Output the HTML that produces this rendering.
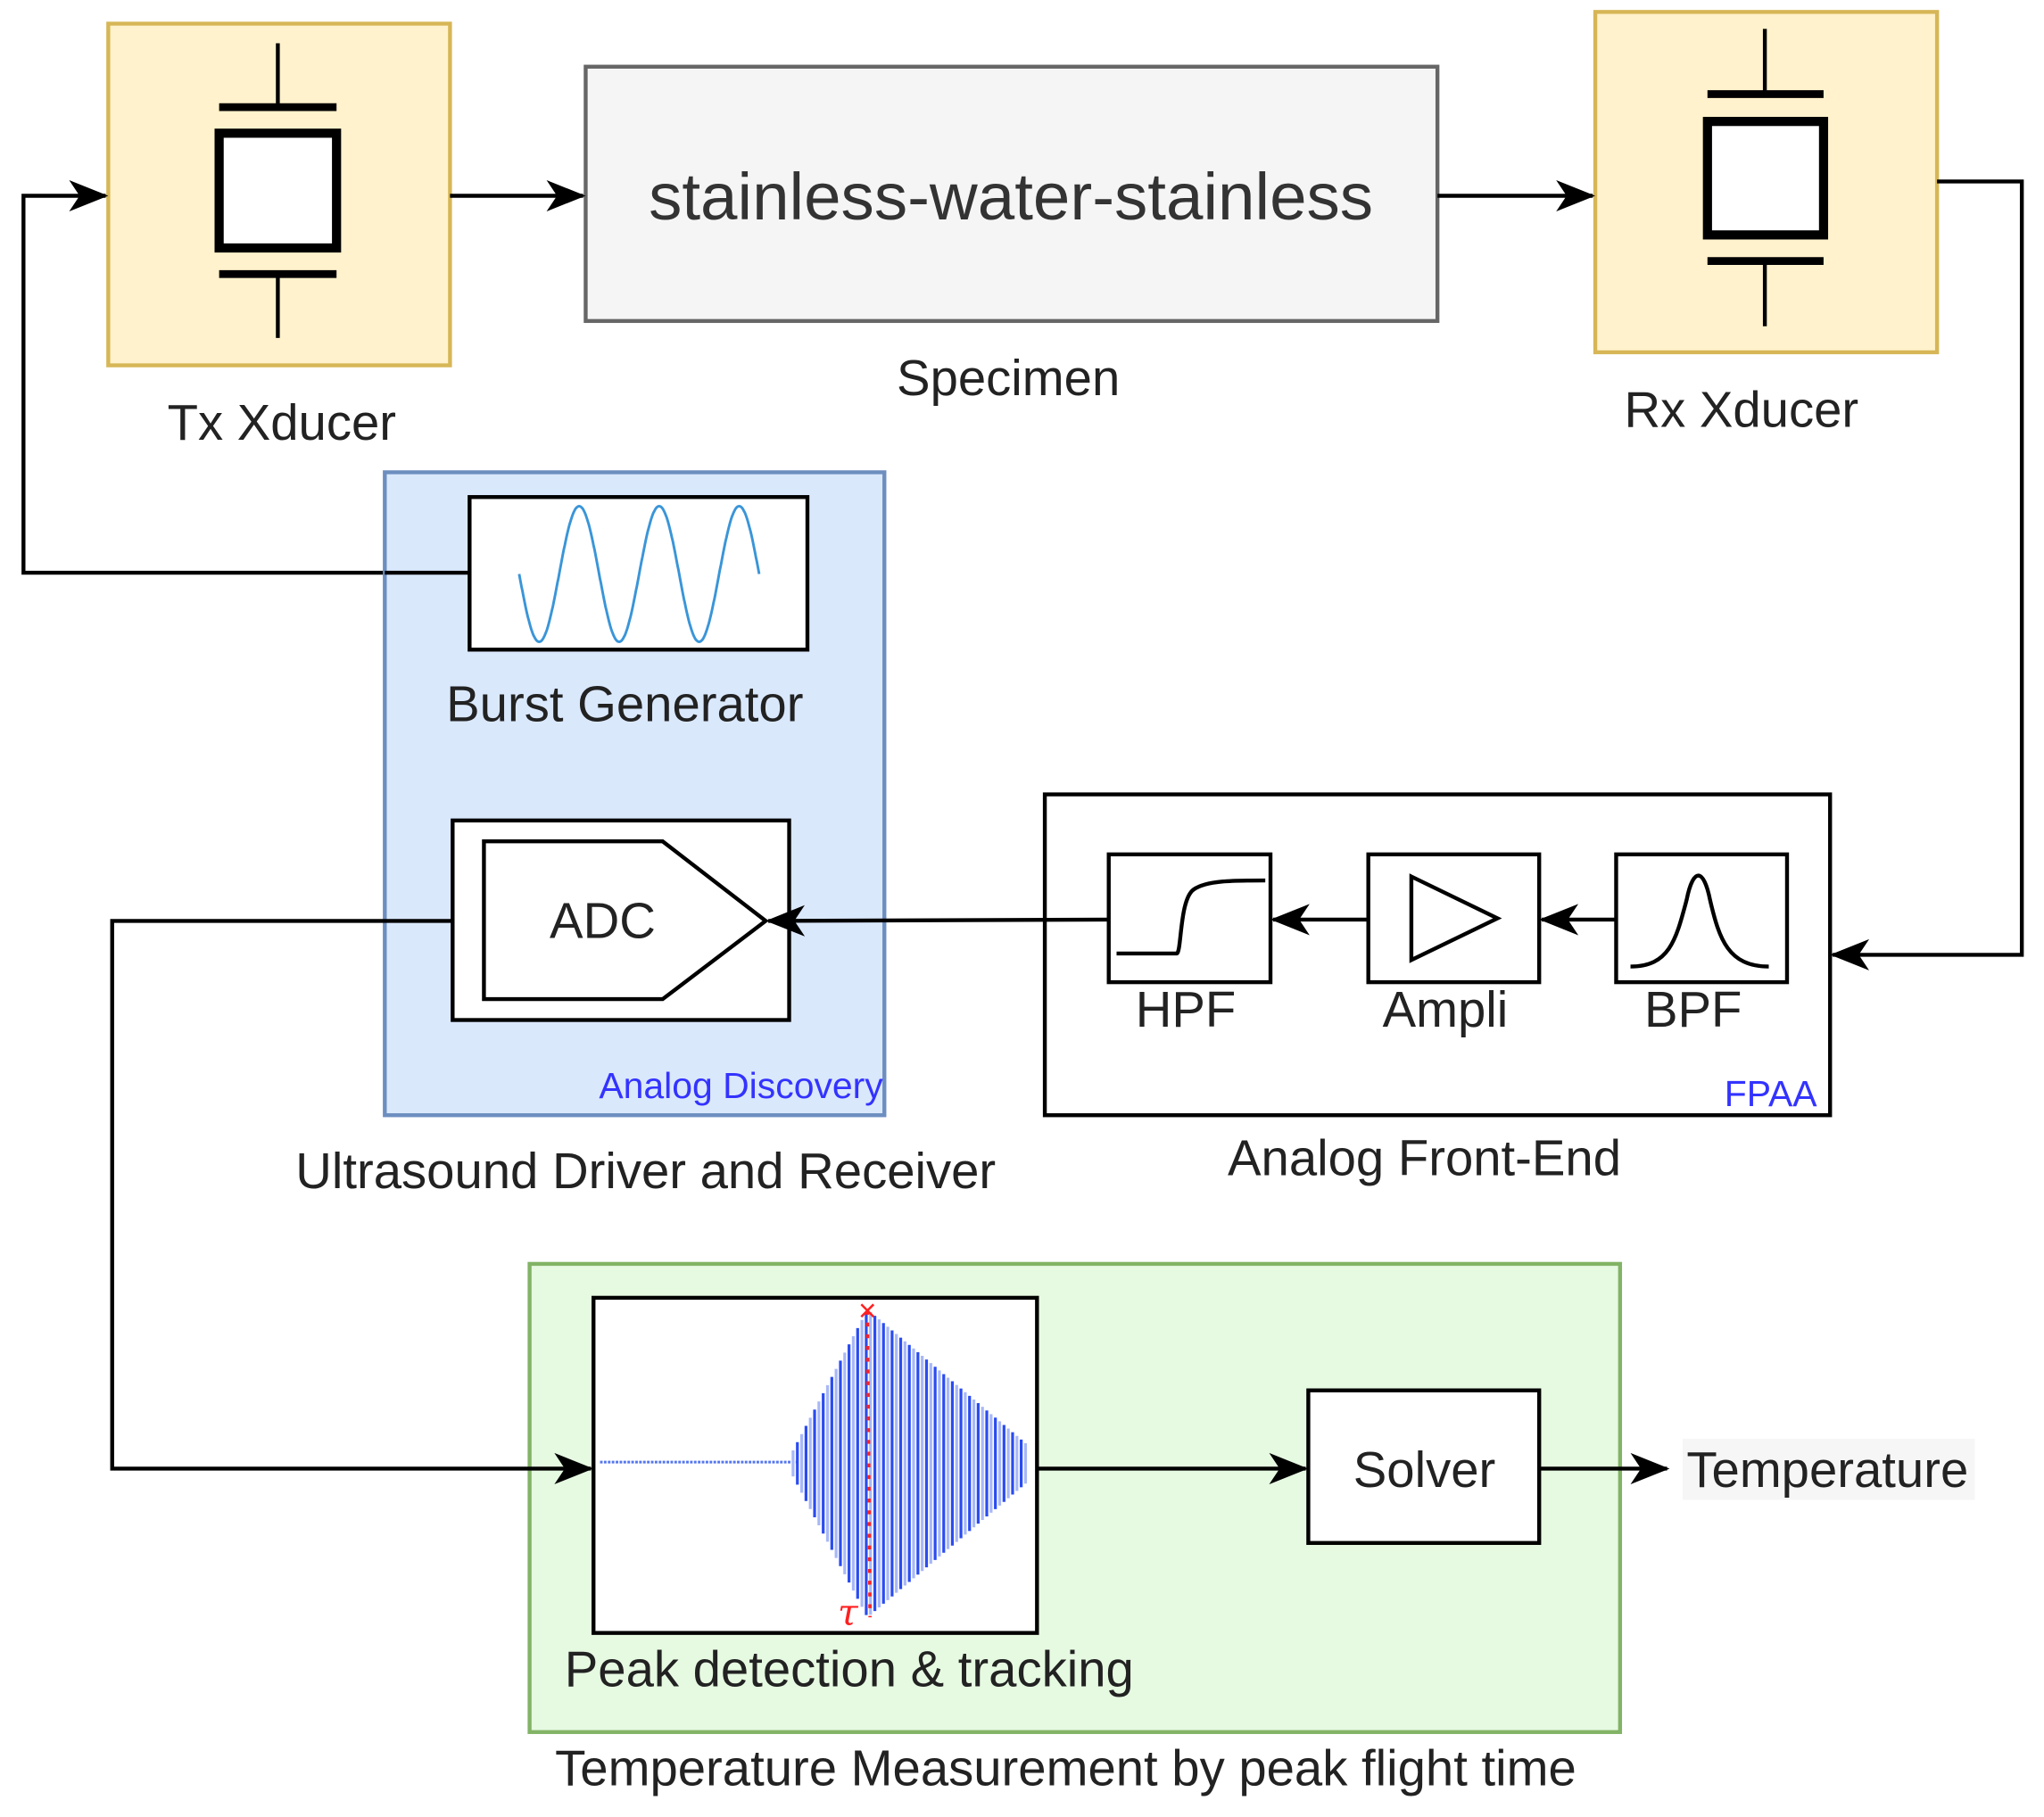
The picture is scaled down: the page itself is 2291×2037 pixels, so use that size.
<!DOCTYPE html>
<html><head><meta charset="utf-8"><style>
html,body{margin:0;padding:0;background:#fff}
svg{display:block}
text{font-family:"Liberation Sans",Arial,sans-serif;fill:#222}
</style></head><body>
<svg id="s" width="2291" height="2037" viewBox="0 0 1567 1393" xmlns="http://www.w3.org/2000/svg">
<defs>
<marker id="b" markerWidth="30" markerHeight="24" refX="28" refY="12" orient="auto" markerUnits="userSpaceOnUse">
<path d="M0,0 L30,12 L0,24 L8,12 Z" fill="#000"/>
</marker>
</defs>
<!-- Tx -->
<rect x="83" y="18" width="262" height="262" fill="#fff2cc" stroke="#d6b656" stroke-width="3"/>
<g stroke="#000" fill="none">
<line x1="213" y1="33" x2="213" y2="82" stroke-width="3"/>
<line x1="168" y1="82" x2="258" y2="82" stroke-width="6"/>
<rect x="168" y="102" width="90" height="88" stroke-width="7" fill="#fff"/>
<line x1="168" y1="210" x2="258" y2="210" stroke-width="6"/>
<line x1="213" y1="210" x2="213" y2="259" stroke-width="3"/>
</g>
<text x="216" y="337" font-size="38.5" text-anchor="middle">Tx Xducer</text>
<!-- Specimen -->
<rect x="449" y="51" width="653" height="195" fill="#f5f5f5" stroke="#666" stroke-width="3"/>
<text x="775" y="168" font-size="51" text-anchor="middle" style="fill:#333">stainless-water-stainless</text>
<text x="773" y="303" font-size="38.5" text-anchor="middle">Specimen</text>
<!-- Rx -->
<rect x="1223" y="9" width="262" height="261" fill="#fff2cc" stroke="#d6b656" stroke-width="3"/>
<g stroke="#000" fill="none">
<line x1="1353" y1="22" x2="1353" y2="72" stroke-width="3"/>
<line x1="1309" y1="72" x2="1398" y2="72" stroke-width="6"/>
<rect x="1309" y="93" width="89" height="87" stroke-width="7" fill="#fff"/>
<line x1="1309" y1="200" x2="1398" y2="200" stroke-width="6"/>
<line x1="1353" y1="200" x2="1353" y2="250" stroke-width="3"/>
</g>
<text x="1335" y="327" font-size="38.5" text-anchor="middle">Rx Xducer</text>
<!-- connectors top -->
<g stroke="#000" stroke-width="3" fill="none">
<line x1="345" y1="150" x2="447" y2="150" marker-end="url(#b)"/>
<line x1="1102" y1="150" x2="1221" y2="150" marker-end="url(#b)"/>
<polyline points="1485,139 1550,139 1550,732 1405,732" marker-end="url(#b)"/>
<polyline points="360,439 18,439 18,150 81,150" marker-end="url(#b)"/>
</g>
<!-- Blue group -->
<rect x="295" y="362" width="383" height="493" fill="#dae8fc" stroke="#6c8ebf" stroke-width="3"/>
<line x1="295" y1="439" x2="360" y2="439" stroke="#000" stroke-width="3"/>
<rect x="360" y="381" width="259" height="117" fill="#fff" stroke="#000" stroke-width="3"/>
<path id="sine" fill="none" stroke="#3a95d8" stroke-width="2"/>
<text x="479" y="553" font-size="38.5" text-anchor="middle">Burst Generator</text>
<rect x="347" y="629" width="258" height="153" fill="#fff" stroke="#000" stroke-width="3"/>
<polygon points="371,645 508,645 587,706 508,766 371,766" fill="#fff" stroke="#000" stroke-width="3"/>
<text x="462" y="719" font-size="38.5" text-anchor="middle">ADC</text>
<text x="677" y="842" font-size="28" text-anchor="end" style="fill:#3333ff">Analog Discovery</text>
<text x="495" y="911" font-size="38.5" text-anchor="middle">Ultrasound Driver and Receiver</text>
<!-- FPAA -->
<rect x="801" y="609" width="602" height="246" fill="#fff" stroke="#000" stroke-width="3"/>
<rect x="850" y="655" width="124" height="98" fill="#fff" stroke="#000" stroke-width="3"/>
<path d="M856,731 L902,731 C906,731 904,690 915,682 C925,675 945,675 970,675" fill="none" stroke="#000" stroke-width="3"/>
<rect x="1049" y="655" width="131" height="98" fill="#fff" stroke="#000" stroke-width="3"/>
<polygon points="1082,672 1148,704 1082,736" fill="none" stroke="#000" stroke-width="3"/>
<rect x="1239" y="655" width="131" height="98" fill="#fff" stroke="#000" stroke-width="3"/>
<path d="M1250,741 C1280,741 1285,720 1293,690 C1298,665 1306,665 1311,690 C1318,720 1325,741 1356,741" fill="none" stroke="#000" stroke-width="3"/>
<text x="909" y="787" font-size="38.5" text-anchor="middle">HPF</text>
<text x="1108" y="787" font-size="38.5" text-anchor="middle">Ampli</text>
<text x="1298" y="787" font-size="38.5" text-anchor="middle">BPF</text>
<text x="1393" y="848" font-size="28" text-anchor="end" style="fill:#3333ff">FPAA</text>
<text x="1092" y="901" font-size="38.5" text-anchor="middle">Analog Front-End</text>
<g stroke="#000" stroke-width="3" fill="none">
<line x1="1239" y1="705" x2="1182" y2="705" marker-end="url(#b)"/>
<line x1="1049" y1="705" x2="976" y2="705" marker-end="url(#b)"/>
<line x1="850" y1="705" x2="589" y2="706" marker-end="url(#b)"/>
</g>
<!-- Green -->
<rect x="406" y="969" width="836" height="359" fill="#e6f9e1" stroke="#82b366" stroke-width="3"/>
<polyline points="347,706 86,706 86,1126 453,1126" stroke="#000" stroke-width="3" fill="none" marker-end="url(#b)"/>
<rect x="455" y="995" width="340" height="257" fill="#fff" stroke="#000" stroke-width="3"/>
<g id="wave"></g>
<line x1="665" y1="1005" x2="667" y2="1240" stroke="#ff2020" stroke-width="2.5" stroke-dasharray="3,6"/>
<text x="665" y="1013" font-size="24" text-anchor="middle" style="fill:#ff2020">×</text>
<text x="650" y="1246" font-size="28" font-style="italic" text-anchor="middle" style="fill:#ff2020;font-family:'DejaVu Serif',serif">τ</text>
<text x="651" y="1293" font-size="38.5" text-anchor="middle">Peak detection &amp; tracking</text>
<g stroke="#000" stroke-width="3" fill="none">
<line x1="795" y1="1126" x2="1001" y2="1126" marker-end="url(#b)"/>
<line x1="1180" y1="1126" x2="1278" y2="1126" marker-end="url(#b)"/>
</g>
<rect x="1003" y="1066" width="177" height="117" fill="#fff" stroke="#000" stroke-width="3"/>
<text x="1092" y="1140" font-size="38.5" text-anchor="middle">Solver</text>
<rect x="1290" y="1103" width="224" height="47" fill="#f6f6f6"/>
<text x="1293" y="1140" font-size="38.5">Temperature</text>
<text x="817" y="1369" font-size="38.5" text-anchor="middle">Temperature Measurement by peak flight time</text>
</svg>
<script>
(function(){
var d="";for(var i=0;i<=300;i++){var x=398+184*i/300;var y=440-52*Math.sin(2*Math.PI*3*i/300+Math.PI);d+=(i?"L":"M")+x.toFixed(1)+","+y.toFixed(1);}
document.getElementById("sine").setAttribute("d",d);
var g=document.getElementById("wave"),h="";
h+='<line x1="460" y1="1121" x2="612" y2="1121" stroke="#5577ee" stroke-width="2" stroke-dasharray="2,1"/>';
var k=0;
for(var x=608;x<=788;x+=3.3){var a;if(x<665)a=10+108*(x-608)/57;else a=118-(118-14)*(x-665)/123;
var c=(k%2)?"#2a4cf0":"#a8b8f7";k++;
h+='<line x1="'+x.toFixed(1)+'" y1="'+(1122-a).toFixed(1)+'" x2="'+x.toFixed(1)+'" y2="'+(1122+a).toFixed(1)+'" stroke="'+c+'" stroke-width="2.2"/>';}
g.innerHTML=h;
})();
</script>
</body></html>
